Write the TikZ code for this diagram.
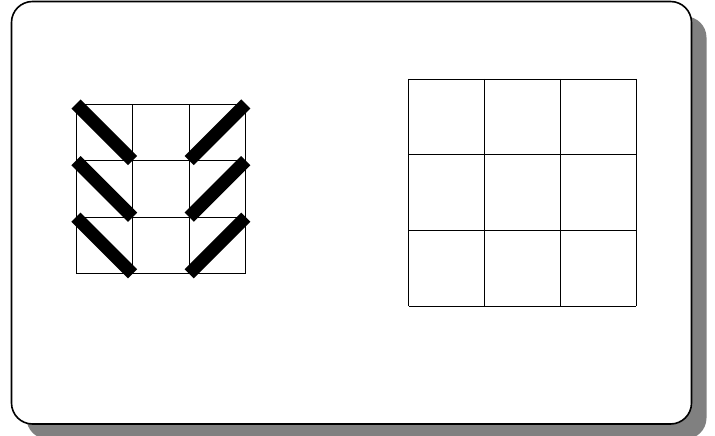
\documentclass[tikz,border=0pt]{standalone}
\usepackage{tikz}

\begin{document}
\begin{tikzpicture}[
        x=1pt, y=-1pt,
        frame/.style={
            draw,
            line width=1.6pt,
            fill=white,
            rounded corners=21pt
        },
        shade/.style={fill=gray, rounded corners=21pt},
        cell/.style={draw, line width=0.7pt},
        bar/.style={draw, line width=13pt, line cap=butt}
    ]
    \useasboundingbox (0,0) rectangle (715,436);
    \path[shade] (26.5,16.5) rectangle (706.5,439);
    \path[frame] (11.5,1.5) rectangle (691.5,424);

    % left board with the bars
    \begin{scope}[shift={(76pt,-104pt)}, x=56.6pt, y=-56.6pt]
        \foreach \i in {0,...,3} {
            \draw[cell] (\i,0) -- (\i,3);
            \draw[cell] (0,\i) -- (3,\i);
        }
        \foreach \r in {0,1,2} {
            \draw[bar] (0,\r) -- (1,\r+1);
            \draw[bar] (3,\r) -- (2,\r+1);
        }
    \end{scope}

    % right board
    \begin{scope}[shift={(408.5pt,-79pt)}, x=75.8pt, y=-75.8pt]
        \foreach \i in {0,...,3} {
            \draw[cell] (\i,0) -- (\i,3);
            \draw[cell] (0,\i) -- (3,\i);
        }
    \end{scope}
\end{tikzpicture}
\end{document}
